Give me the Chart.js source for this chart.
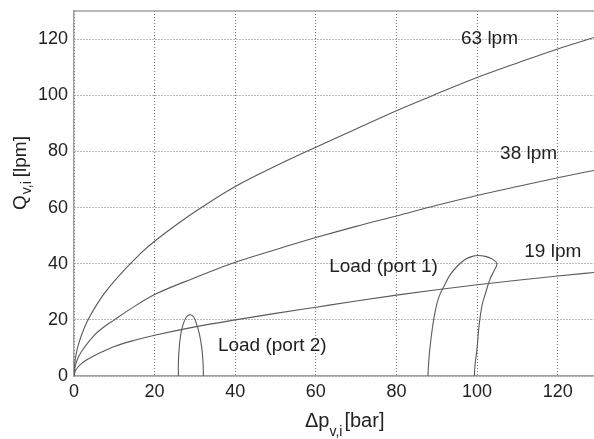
<!DOCTYPE html>
<html>
<head>
<meta charset="utf-8">
<script src="https://cdn.jsdelivr.net/npm/chart.js@4/dist/chart.umd.min.js"></script>
<style>
html,body{margin:0;padding:0;background:#fff;overflow:hidden;}
canvas{display:block;}
</style>
</head>
<body>
<canvas id="c" width="594" height="439"></canvas>
<script>
// Pressure drop Δp [bar] and flow Q [lpm]
const dp63 = [0, 0.25, 0.5, 1, 2, 3, 4, 5, 6.5, 8, 10, 12, 14, 17, 20, 26, 30, 40, 50, 60, 70, 80, 90, 100, 110, 120, 130];
const q63  = [0, 5.3, 7.5, 10.7, 15.1, 18.6, 21.4, 23.9, 27.3, 30.3, 33.8, 37, 40, 44.3, 48, 54.5, 58.5, 67.5, 74.8, 81.5, 88, 94.5, 100.5, 106.3, 111.5, 116.5, 121];

const dp38 = [0, 0.25, 0.5, 1, 2, 3, 5, 7, 10, 15, 20, 30, 40, 50, 60, 70, 80, 90, 100, 110, 120, 130];
const q38  = [0, 3.2, 4.5, 6.5, 9, 11, 14.5, 17, 20, 24.8, 29, 35, 40.5, 45, 49.3, 53.3, 57, 60.8, 64.3, 67.5, 70.6, 73.5];

const dp19 = [0, 0.25, 0.5, 1, 2, 3, 5, 7, 10, 15, 20, 30, 40, 50, 60, 70, 80, 90, 100, 110, 120, 130];
const q19  = [0, 1.5, 2.2, 3.2, 4.6, 5.6, 7.2, 8.6, 10.5, 12.7, 14.5, 17.5, 20, 22.3, 24.5, 26.7, 28.8, 30.7, 32.5, 34.1, 35.6, 37];

const dpLoad2 = [25.9, 25.9, 26.1, 26.5, 27.1, 27.9, 28.8, 29.7, 30.4, 31.1, 31.7, 32, 32.1];
const qLoad2  = [0, 5, 10, 15, 18.5, 21, 21.8, 21, 18.5, 15, 10, 5, 0];

const dpLoad1 = [87.8, 88, 88.3, 88.9, 89.6, 90.5, 91.8, 93.3, 95, 97, 98.8, 100.3, 102, 103.6, 104.9, 104.2, 103.2, 102.2, 101.2, 100.5, 100, 99.5, 99.3];
const qLoad1  = [0, 5, 10, 17, 23, 28, 32, 36, 39, 41.5, 42.6, 42.9, 42.6, 41.8, 40, 37.5, 34.5, 30, 25, 18, 10, 4, 0];

const xTicks = [0, 20, 40, 60, 80, 100, 120];
const yTicks = [0, 20, 40, 60, 80, 100, 120];

const curveNames = ['63 lpm', '38 lpm', '19 lpm', 'Load (port 1)', 'Load (port 2)'];
const labelDp = [96, 105.7, 111.7, 63.3, 35.7];
const labelQ  = [120, 79, 44.3, 39, 10.7];

const pts = (xs, ys) => xs.map((x, i) => ({x: x, y: ys[i]}));
const lineColor = '#5a5a5a';
const mk = (label, xs, ys, mono) => Object.assign({
  label: label, data: pts(xs, ys), showLine: true, pointRadius: 0,
  borderColor: lineColor, borderWidth: 1.1, fill: false
}, mono ? {cubicInterpolationMode: 'monotone'} : {tension: 0.4});

const font = 'Liberation Sans, Arial, sans-serif';

const decor = {
  id: 'decor',
  afterDraw(chart) {
    const ctx = chart.ctx, a = chart.chartArea;
    const xs = chart.scales.x, ys = chart.scales.y;
    ctx.save();
    // top border
    ctx.strokeStyle = '#a0a0a0'; ctx.lineWidth = 1.5;
    ctx.beginPath(); ctx.moveTo(a.left, a.top); ctx.lineTo(a.right, a.top); ctx.stroke();
    // curve annotations
    ctx.fillStyle = '#222';
    ctx.font = '19px ' + font;
    ctx.textBaseline = 'middle'; ctx.textAlign = 'left';
    curveNames.forEach((t, i) => {
      ctx.fillText(t, xs.getPixelForValue(labelDp[i]), ys.getPixelForValue(labelQ[i]));
    });
    // x axis title: Δp_v,i [bar]
    ctx.textBaseline = 'alphabetic';
    ctx.font = '20px ' + font;
    let x = 305, y = 427;
    ctx.fillText('Δp', x, y);
    x += ctx.measureText('Δp').width;
    ctx.font = '14px ' + font;
    ctx.fillText('v,i', x, y + 9);
    x += ctx.measureText('v,i').width + 2;
    ctx.font = '20px ' + font;
    ctx.fillText('[bar]', x, y);
    // y axis title: Q_v,i [lpm]
    ctx.translate(26, 210);
    ctx.rotate(-Math.PI / 2);
    ctx.font = '19px ' + font;
    let u = 0;
    ctx.fillText('Q', u, 0);
    u += ctx.measureText('Q').width + 1;
    ctx.font = '14px ' + font;
    ctx.fillText('v,i', u, 5);
    u += ctx.measureText('v,i').width + 4;
    ctx.font = '19px ' + font;
    ctx.fillText('[lpm]', u, 0);
    ctx.restore();
  }
};

new Chart(document.getElementById('c'), {
  type: 'scatter',
  data: {
    datasets: [
      mk('63 lpm', dp63, q63, true),
      mk('38 lpm', dp38, q38, true),
      mk('19 lpm', dp19, q19, true),
      mk('Load (port 1)', dpLoad1, qLoad1, false),
      mk('Load (port 2)', dpLoad2, qLoad2, false)
    ]
  },
  options: {
    responsive: false,
    animation: false,
    devicePixelRatio: 1,
    layout: {padding: {top: 11, left: 0, right: 0, bottom: 0}},
    plugins: {legend: {display: false}, tooltip: {enabled: false}},
    scales: {
      x: {
        type: 'linear', min: 0, max: 129,
        afterBuildTicks: s => { s.ticks = xTicks.map(v => ({value: v})); },
        afterFit: s => { s.height = 63; s.paddingLeft = 0; s.paddingRight = 0; },
        grid: {color: '#777', lineWidth: 1, drawTicks: false},
        border: {display: true, color: '#a0a0a0', width: 1.5, dash: [1, 2]},
        ticks: {color: '#222', font: {family: font, size: 18}, padding: 5, maxRotation: 0}
      },
      y: {
        type: 'linear', min: 0, max: 130,
        afterBuildTicks: s => { s.ticks = yTicks.map(v => ({value: v})); },
        afterFit: s => { s.width = 74; s.paddingTop = 0; s.paddingBottom = 0; },
        grid: {color: '#777', lineWidth: 1, drawTicks: false},
        border: {display: true, color: '#a0a0a0', width: 1.5, dash: [1, 2]},
        ticks: {color: '#222', font: {family: font, size: 18}, padding: 6}
      }
    }
  },
  plugins: [decor]
});
</script>
</body>
</html>
